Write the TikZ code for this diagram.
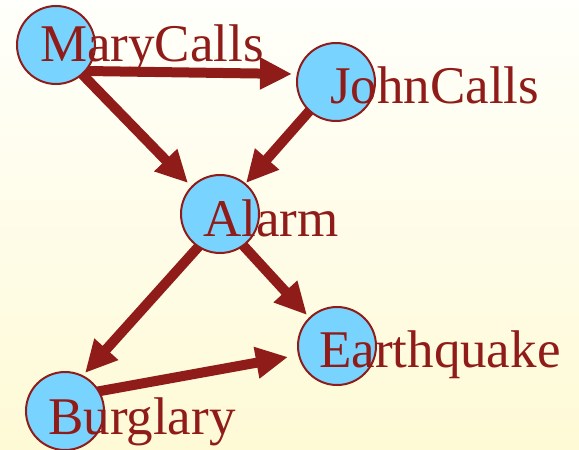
\documentclass[tikz,border=0pt]{standalone}
\usepackage{fontspec}
\setmainfont{Liberation Serif}
\usetikzlibrary{arrows.meta,calc}
\definecolor{dred}{HTML}{901C1A}
\definecolor{cblue}{HTML}{78D4FF}
\definecolor{bgtop}{HTML}{FFFFFB}
\definecolor{bgbot}{HTML}{FEFAD6}
\begin{document}
\begin{tikzpicture}[x=1pt,y=-1pt,
  var/.style={circle,draw=dred,line width=2pt,fill=cblue,minimum size=78pt,inner sep=0pt},
  lbl/.style={anchor=base west,inner sep=0pt,text=dred,font=\fontsize{53}{60}\selectfont},
  link/.style={draw=dred,line width=10pt,-{Triangle[length=32pt,width=30pt]}}]
\shade[top color=bgtop,bottom color=bgbot] (0,0) rectangle (579,450);
\useasboundingbox (0,0) rectangle (579,450);
% circle positions
\coordinate (cM) at (56,45);
\coordinate (cJ) at (336,82);
\coordinate (cA) at (220,214);
\coordinate (cE) at (337,346);
\coordinate (cB) at (65,411);
% arrows (drawn beneath circles)
\draw[link] ($(cM)+(30,26)$) -- ($(cJ)+(-44,-8)$);
\draw[link] ($(cM)+(24,27)$) -- ($(cA)+(-32,-31)$);
\draw[link] ($(cJ)+(-24,26)$) -- ($(cA)+(26,-31)$);
\draw[link] ($(cA)+(20,28)$) -- ($(cE)+(-30,-31)$);
\draw[link] ($(cA)+(-20,31)$) -- ($(cB)+(20,-38)$);
\draw[link] ($(cB)+(30,-19)$) -- ($(cE)+(-49,11)$);
% circles
\node[var] (M) at (cM) {};
\node[var] (J) at (cJ) {};
\node[var] (A) at (cA) {};
\node[var] (E) at (cE) {};
\node[var] (B) at (cB) {};
% labels
\node[lbl] (tM) at (40,61) {MaryCalls};
\node[lbl] (tJ) at (330,103) {JohnCalls};
\node[lbl] (tA) at (203,236) {Alarm};
\node[lbl] (tE) at (319,367) {Earthquake};
\node[lbl] (tB) at (48,434) {Burglary};
\end{tikzpicture}
\end{document}
